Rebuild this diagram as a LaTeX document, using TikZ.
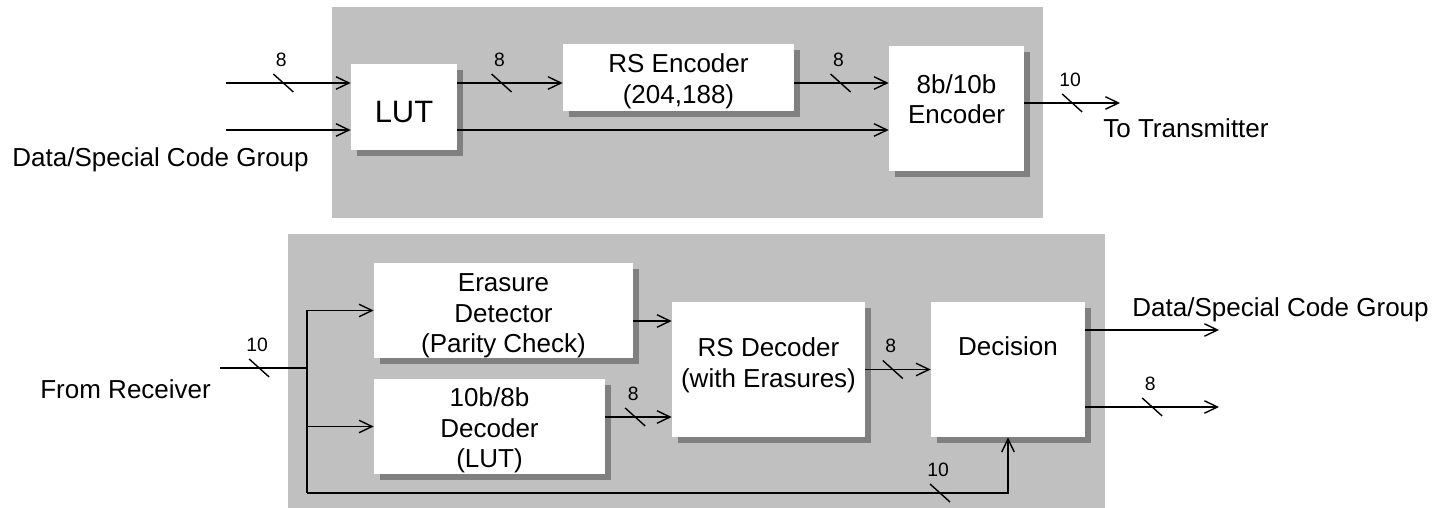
\documentclass[tikz,border=0pt]{standalone}
\usepackage{fontspec}
\setmainfont{Liberation Sans}
\usetikzlibrary{arrows.meta,shadows,calc}

\definecolor{panelgray}{HTML}{C0C0C0}
\definecolor{shadowgray}{HTML}{808080}

% bus width mark: coordinate, label name, label text
\newcommand{\busmark}[3]{
    \draw[wire] ($(#1)+(-.2,.18)$) -- ($(#1)+(.2,-.18)$);
    \node[buslabel] (#2) at ($(#1)+(-.04,.47)$) {#3};
}

\begin{document}
\begin{tikzpicture}[
        wire/.style={line width=0.8pt},
        sig/.style={wire, -{Straight Barb[length=2.6mm,width=2.5mm]}},
        blk/.style={fill=white, inner sep=0pt,
            drop shadow={fill=shadowgray, opacity=1, shadow xshift=0.12cm, shadow yshift=-0.12cm}},
        txt/.style={align=center, inner sep=0pt, font=\fontsize{14.8}{17.4}\selectfont},
        buslabel/.style={inner sep=0pt, font=\fontsize{11}{13}\selectfont}
    ]
    \useasboundingbox (0,0) rectangle (28.74,10.16);

    % panels
    \fill[panelgray] (6.64,5.80) rectangle (20.86,10.02);
    \fill[panelgray] (5.76,0) rectangle (22.10,5.48);

    % transmit side
    \node[blk, minimum width=2.12cm, minimum height=1.72cm] (lut) at (8.08,8.02) {};
    \node[blk, minimum width=4.62cm, minimum height=1.34cm] (rse) at (13.57,8.61) {};
    \node[blk, minimum width=2.70cm, minimum height=2.50cm] (enc) at (19.13,7.99) {};
    \node[txt, font=\fontsize{17.6}{20}\selectfont] (lut-t) at ([yshift=-0.11cm]lut.center) {LUT};
    \node[txt] (rse-t) at ([yshift=-0.07cm]rse.center) {RS Encoder\\(204,188)};
    \node[txt] (enc-t) at ([yshift=0.19cm]enc.center) {8b/10b\\Encoder};

    \coordinate (in1) at (4.52,8.50);
    \coordinate (in2) at (4.52,7.56);
    \coordinate (out) at (22.40,8.10);

    \draw[sig] (in1) -- coordinate[pos=.46] (b1) (in1 -| lut.west);
    \draw[sig] (in2) -- (in2 -| lut.west);
    \draw[sig] (lut.east |- in1) -- coordinate[pos=.42] (b2) (rse.west |- in1);
    \draw[sig] (lut.east |- in2) -- (enc.west |- in2);
    \draw[sig] (rse.east |- in1) -- coordinate[pos=.49] (b3) (enc.west |- in1);
    \draw[sig] (enc.east |- out) -- coordinate[pos=.5] (b4) (out);
    \busmark{b1}{w1}{8}
    \busmark{b2}{w2}{8}
    \busmark{b3}{w3}{8}
    \busmark{b4}{w4}{10}

    \node[txt, anchor=base west] (src) at (0.24,6.82) {Data/Special Code Group};
    \node[txt, anchor=base west] (tx) at (22.06,7.40) {To Transmitter};

    % receive side
    \node[blk, minimum width=5.18cm, minimum height=1.90cm] (ers) at (10.07,3.95) {};
    \node[blk, minimum width=4.62cm, minimum height=1.90cm] (dec) at (9.79,1.63) {};
    \node[blk, minimum width=3.86cm, minimum height=2.70cm] (rsd) at (15.37,2.77) {};
    \node[blk, minimum width=3.08cm, minimum height=2.70cm] (dcs) at (20.16,2.77) {};
    \node[txt] (ers-t) at ([yshift=-0.11cm]ers.center) {Erasure\\Detector\\(Parity Check)};
    \node[txt] (dec-t) at ([yshift=-0.08cm]dec.center) {10b/8b\\Decoder\\(LUT)};
    \node[txt] (rsd-t) at ([yshift=0.09cm]rsd.center) {RS Decoder\\(with Erasures)};
    \node[txt] (dcs-t) at ([yshift=0.46cm]dcs.center) {Decision};

    \coordinate (rx) at (4.40,2.80);
    \coordinate (jn) at (6.14,2.80);
    \coordinate (fb) at (6.14,0.30);
    \coordinate (e1) at ([yshift=-0.21cm]ers.east);
    \coordinate (d1) at ([yshift=0.19cm]dec.east);
    \coordinate (o1) at (24.38,3.56);
    \coordinate (o2) at (24.38,2.02);

    \draw[wire] (rx) -- coordinate[pos=.45] (b5) (jn);
    \draw[wire] (jn |- ers.west) -- (fb);
    \draw[sig] (jn |- ers.west) -- (ers.west);
    \draw[sig] (jn |- dec.west) -- (dec.west);
    \draw[sig] (e1) -- (e1 -| rsd.west);
    \draw[sig] (d1) -- coordinate[pos=.45] (b6) (d1 -| rsd.west);
    \draw[sig] (rsd.east) -- coordinate[pos=.42] (b7) (rsd.east -| dcs.west);
    \draw[sig] (dcs.east |- o1) -- (o1);
    \draw[sig] (dcs.east |- o2) -- coordinate[pos=.5] (b8) (o2);
    \draw[sig] (fb) -- coordinate[pos=.903] (b9) (fb -| dcs.south) -- (dcs.south);
    \busmark{b5}{w5}{10}
    \busmark{b6}{w6}{8}
    \busmark{b7}{w7}{8}
    \busmark{b8}{w8}{8}
    \busmark{b9}{w9}{10}

    \node[txt, anchor=base west] (sink) at (22.64,3.82) {Data/Special Code Group};
    \node[txt, anchor=base west] (rcv) at (0.80,2.18) {From Receiver};
\end{tikzpicture}
\end{document}
